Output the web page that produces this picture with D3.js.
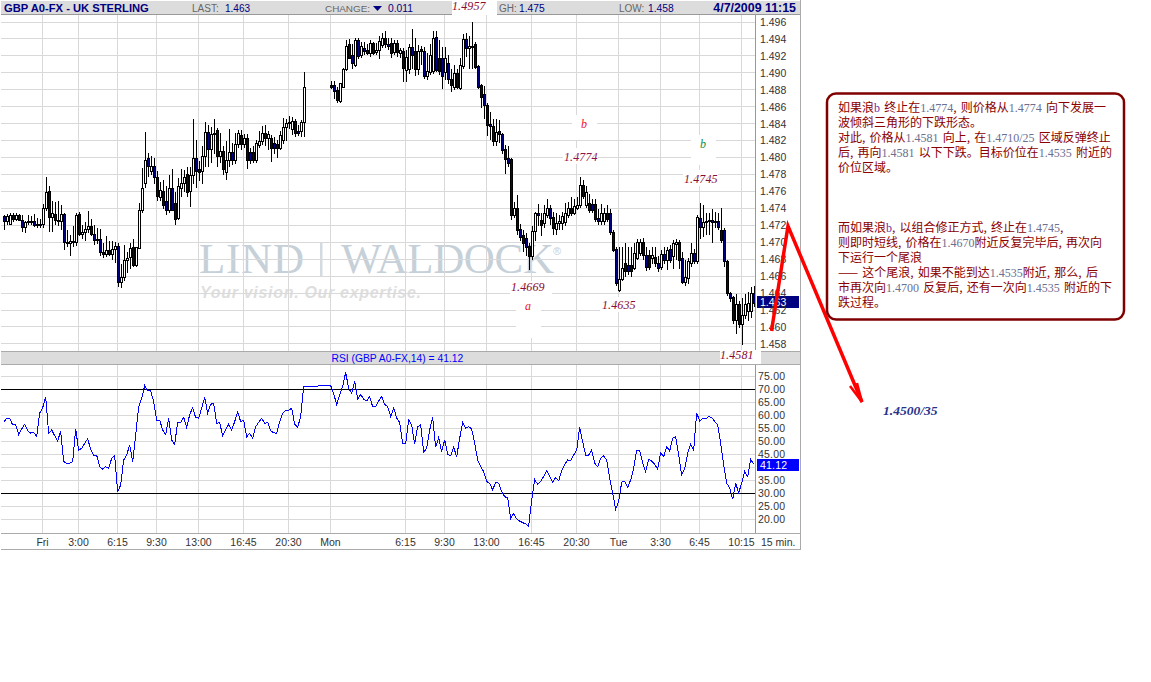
<!DOCTYPE html>
<html><head><meta charset="utf-8">
<script src="https://cdn.jsdelivr.net/npm/d3@7/dist/d3.min.js"></script>
<style>html,body{margin:0;padding:0;background:#fff}svg{display:block}</style>
</head><body><svg id="c" width="1151" height="682"></svg>
<script>
const opens=[1.4731,1.4726,1.4722,1.4733,1.4728,1.4733,1.4727,1.4718,1.4724,1.4725,1.4726,1.4721,1.4722,1.4722,1.4741,1.4761,1.4730,1.4734,1.4727,1.4725,1.4734,1.4701,1.4700,1.4702,1.4701,1.4734,1.4710,1.4713,1.4716,1.4720,1.4710,1.4703,1.4704,1.4689,1.4687,1.4691,1.4687,1.4692,1.4696,1.4654,1.4659,1.4680,1.4683,1.4695,1.4674,1.4694,1.4739,1.4770,1.4800,1.4785,1.4791,1.4778,1.4754,1.4761,1.4749,1.4739,1.4765,1.4747,1.4729,1.4765,1.4770,1.4781,1.4761,1.4780,1.4800,1.4787,1.4784,1.4802,1.4831,1.4810,1.4828,1.4833,1.4802,1.4808,1.4783,1.4798,1.4807,1.4798,1.4816,1.4827,1.4816,1.4823,1.4807,1.4807,1.4798,1.4815,1.4820,1.4829,1.4823,1.4824,1.4818,1.4817,1.4812,1.4821,1.4837,1.4841,1.4834,1.4844,1.4832,1.4832,1.4842,
null,null,null,null,null,null,null,null,
1.4886,1.4886,1.4880,1.4867,1.4884,1.4905,1.4935,1.4922,1.4910,1.4939,1.4922,1.4930,1.4928,1.4924,1.4936,1.4925,1.4928,1.4933,1.4942,1.4934,1.4936,1.4925,1.4936,1.4924,1.4926,1.4904,1.4905,1.4931,1.4926,1.4905,1.4929,1.4926,1.4897,1.4901,1.4903,1.4943,1.4918,1.4918,1.4901,1.4912,1.4893,1.4884,1.4900,1.4883,1.4909,1.4940,1.4930,1.4932,1.4935,1.4908,1.4886,1.4875,1.4863,1.4840,1.4838,1.4820,1.4832,1.4828,1.4810,1.4800,1.4799,1.4733,1.4741,1.4716,1.4709,1.4705,1.4696,1.4684,1.4714,1.4735,1.4727,1.4723,1.4733,1.4741,1.4730,1.4716,1.4723,1.4723,1.4724,1.4733,1.4741,1.4735,1.4741,1.4744,1.4768,1.4745,1.4747,1.4746,1.4746,1.4729,1.4725,1.4726,1.4735,1.4735,1.4713,1.4693,1.4644,1.4657,1.4676,1.4674,1.4674,1.4670,1.4682,1.4688,1.4701,1.4686,1.4685,1.4682,1.4683,1.4676,1.4671,1.4687,1.4680,1.4693,1.4684,1.4698,1.4701,1.4682,1.4654,1.4658,1.4676,1.4688,1.4678,1.4729,1.4719,1.4724,1.4725,1.4727,1.4725,1.4725,1.4715,1.4715,1.4678,1.4641,1.4636,1.4609,1.4628,1.4604,1.4615,1.4619,1.4619,1.4640];
const highs=[1.4733,1.4734,1.4736,1.4735,1.4735,1.4734,1.4733,1.4726,1.4733,1.4732,1.4734,1.4730,1.4729,1.4746,1.4778,1.4768,1.4750,1.4748,1.4750,1.4745,1.4736,1.4716,1.4710,1.4720,1.4736,1.4737,1.4722,1.4725,1.4738,1.4728,1.4722,1.4718,1.4717,1.4700,1.4708,1.4702,1.4703,1.4701,1.4700,1.4675,1.4698,1.4690,1.4700,1.4705,1.4696,1.4747,1.4789,1.4831,1.4806,1.4803,1.4800,1.4785,1.4772,1.4775,1.4768,1.4780,1.4787,1.4760,1.4777,1.4787,1.4786,1.4790,1.4790,1.4846,1.4822,1.4797,1.4815,1.4843,1.4839,1.4837,1.4847,1.4836,1.4830,1.4815,1.4820,1.4835,1.4818,1.4830,1.4833,1.4833,1.4829,1.4829,1.4812,1.4815,1.4822,1.4832,1.4838,1.4839,1.4832,1.4828,1.4825,1.4822,1.4832,1.4848,1.4847,1.4850,1.4849,1.4846,1.4840,1.4845,1.4902,
null,null,null,null,null,null,null,null,
1.4891,1.4891,1.4884,1.4889,1.4907,1.4940,1.4941,1.4935,1.4942,1.4942,1.4937,1.4937,1.4935,1.4940,1.4938,1.4936,1.4944,1.4948,1.4950,1.4942,1.4942,1.4940,1.4940,1.4930,1.4930,1.4928,1.4935,1.4953,1.4942,1.4934,1.4933,1.4932,1.4925,1.4935,1.4950,1.4950,1.4940,1.4931,1.4932,1.4922,1.4905,1.4910,1.4906,1.4918,1.4947,1.4948,1.4945,1.4961,1.4938,1.4910,1.4888,1.4885,1.4865,1.4855,1.4846,1.4847,1.4845,1.4830,1.4816,1.4815,1.4801,1.4748,1.4757,1.4723,1.4716,1.4712,1.4700,1.4720,1.4737,1.4746,1.4735,1.4745,1.4752,1.4745,1.4737,1.4735,1.4733,1.4737,1.4747,1.4748,1.4755,1.4752,1.4755,1.4778,1.4775,1.4767,1.4758,1.4752,1.4752,1.4740,1.4746,1.4742,1.4745,1.4740,1.4715,1.4695,1.4695,1.4695,1.4700,1.4695,1.4695,1.4700,1.4705,1.4705,1.4706,1.4695,1.4692,1.4696,1.4695,1.4685,1.4692,1.4695,1.4695,1.4698,1.4704,1.4705,1.4704,1.4690,1.4680,1.4682,1.4700,1.4693,1.4733,1.4747,1.4745,1.4735,1.4736,1.4740,1.4737,1.4735,1.4741,1.4718,1.4680,1.4642,1.4638,1.4640,1.4632,1.4635,1.4640,1.4642,1.4648,1.4650];
const lows=[1.4715,1.4721,1.4721,1.4725,1.4726,1.4727,1.4713,1.4712,1.4721,1.4721,1.4719,1.4718,1.4718,1.4718,1.4738,1.4713,1.4713,1.4722,1.4720,1.4715,1.4692,1.4695,1.4685,1.4695,1.4697,1.4708,1.4705,1.4703,1.4712,1.4708,1.4698,1.4699,1.4685,1.4683,1.4684,1.4685,1.4680,1.4676,1.4648,1.4647,1.4655,1.4665,1.4670,1.4672,1.4672,1.4693,1.4735,1.4765,1.4778,1.4780,1.4770,1.4750,1.4750,1.4740,1.4733,1.4735,1.4738,1.4722,1.4727,1.4755,1.4760,1.4755,1.4743,1.4770,1.4765,1.4773,1.4770,1.4790,1.4790,1.4795,1.4805,1.4790,1.4795,1.4780,1.4775,1.4790,1.4792,1.4793,1.4812,1.4810,1.4812,1.4787,1.4793,1.4795,1.4795,1.4812,1.4816,1.4815,1.4810,1.4796,1.4805,1.4800,1.4810,1.4817,1.4820,1.4835,1.4828,1.4825,1.4826,1.4825,1.4825,
null,null,null,null,null,null,null,null,
1.4882,1.4870,1.4866,1.4866,1.4883,1.4903,1.4917,1.4905,1.4908,1.4917,1.4918,1.4922,1.4922,1.4920,1.4922,1.4922,1.4917,1.4930,1.4930,1.4928,1.4918,1.4922,1.4920,1.4918,1.4890,1.4890,1.4900,1.4905,1.4897,1.4898,1.4910,1.4894,1.4893,1.4898,1.4900,1.4902,1.4898,1.4882,1.4893,1.4888,1.4878,1.4881,1.4882,1.4881,1.4905,1.4920,1.4906,1.4905,1.4905,1.4882,1.4860,1.4846,1.4826,1.4822,1.4815,1.4815,1.4818,1.4805,1.4782,1.4790,1.4727,1.4730,1.4710,1.4702,1.4690,1.4685,1.4668,1.4680,1.4702,1.4720,1.4708,1.4718,1.4730,1.4722,1.4710,1.4710,1.4715,1.4715,1.4720,1.4730,1.4732,1.4733,1.4739,1.4741,1.4752,1.4742,1.4735,1.4736,1.4725,1.4722,1.4722,1.4722,1.4725,1.4710,1.4690,1.4650,1.4642,1.4655,1.4660,1.4662,1.4660,1.4668,1.4680,1.4685,1.4680,1.4667,1.4668,1.4675,1.4672,1.4666,1.4668,1.4675,1.4668,1.4676,1.4670,1.4680,1.4670,1.4652,1.4650,1.4652,1.4672,1.4675,1.4675,1.4705,1.4707,1.4710,1.4710,1.4700,1.4718,1.4715,1.4700,1.4672,1.4638,1.4630,1.4604,1.4593,1.4600,1.4580,1.4610,1.4608,1.4612,1.4625];
const closes=[1.4726,1.4731,1.4733,1.4728,1.4733,1.4727,1.4719,1.4724,1.4725,1.4726,1.4721,1.4722,1.4722,1.4741,1.4760,1.4730,1.4735,1.4727,1.4725,1.4734,1.4701,1.4700,1.4702,1.4702,1.4733,1.4710,1.4713,1.4716,1.4720,1.4710,1.4703,1.4704,1.4689,1.4687,1.4691,1.4687,1.4692,1.4696,1.4653,1.4660,1.4680,1.4682,1.4694,1.4674,1.4695,1.4739,1.4765,1.4798,1.4790,1.4791,1.4778,1.4755,1.4762,1.4745,1.4739,1.4765,1.4739,1.4728,1.4767,1.4770,1.4778,1.4760,1.4780,1.4800,1.4785,1.4783,1.4802,1.4831,1.4810,1.4828,1.4829,1.4802,1.4808,1.4787,1.4798,1.4807,1.4798,1.4816,1.4830,1.4816,1.4823,1.4798,1.4798,1.4798,1.4818,1.4820,1.4829,1.4823,1.4828,1.4812,1.4812,1.4812,1.4827,1.4837,1.4841,1.4842,1.4844,1.4830,1.4829,1.4842,1.4884,
null,null,null,null,null,null,null,null,
1.4884,1.4879,1.4868,1.4888,1.4905,1.4932,1.4918,1.4912,1.4939,1.4920,1.4932,1.4926,1.4924,1.4936,1.4924,1.4928,1.4938,1.4941,1.4934,1.4932,1.4924,1.4936,1.4925,1.4927,1.4906,1.4919,1.4931,1.4922,1.4905,1.4926,1.4926,1.4897,1.4903,1.4922,1.4942,1.4904,1.4903,1.4897,1.4918,1.4893,1.4886,1.4900,1.4884,1.4910,1.4940,1.4930,1.4932,1.4932,1.4907,1.4884,1.4872,1.4862,1.4839,1.4838,1.4820,1.4831,1.4828,1.4809,1.4799,1.4794,1.4733,1.4741,1.4715,1.4707,1.4700,1.4695,1.4684,1.4714,1.4735,1.4733,1.4721,1.4735,1.4741,1.4729,1.4717,1.4723,1.4725,1.4731,1.4735,1.4741,1.4735,1.4743,1.4745,1.4768,1.4755,1.4760,1.4739,1.4739,1.4728,1.4725,1.4735,1.4735,1.4728,1.4713,1.4691,1.4652,1.4657,1.4670,1.4666,1.4666,1.4666,1.4688,1.4701,1.4701,1.4686,1.4671,1.4671,1.4686,1.4676,1.4670,1.4687,1.4680,1.4691,1.4680,1.4700,1.4701,1.4680,1.4654,1.4660,1.4678,1.4688,1.4678,1.4730,1.4719,1.4724,1.4725,1.4727,1.4724,1.4726,1.4718,1.4703,1.4678,1.4640,1.4635,1.4609,1.4628,1.4604,1.4615,1.4627,1.4629,1.4640,1.4629];
const rsiValues=[57.1,58.7,58.7,56.1,56.1,52.5,54.6,56.4,53.9,53.0,53.3,51.8,60.6,62.7,66.7,52.9,54.2,52.0,50.0,53.8,42.1,41.5,41.5,42.1,54.6,46.4,47.2,49.1,50.8,46.9,44.4,44.6,40.2,39.2,40.2,39.5,43.4,44.3,30.6,33.2,42.7,44.6,48.5,42.1,52.3,63.1,66.3,71.1,69.1,69.1,65.0,58.0,58.0,54.2,52.5,58.7,50.4,48.7,57.1,57.1,59.0,55.2,60.0,62.7,58.9,58.7,62.5,66.7,60.6,64.0,64.4,56.7,57.1,51.9,54.2,56.4,54.2,57.4,61.0,57.4,58.0,51.6,52.9,51.0,55.5,57.1,58.7,56.7,57.1,53.8,53.2,52.9,57.4,60.6,61.8,61.8,62.5,56.4,55.2,59.3,70.8,
70.8,70.8,70.8,70.8,71.1,71.1,71.1,71.1,
71.1,68.2,63.8,67.6,70.8,76.2,70.1,68.2,72.9,66.0,67.8,65.9,65.3,66.9,63.1,63.1,65.3,66.9,64.0,63.1,59.3,62.7,58.7,57.1,49.1,49.1,58.0,56.1,48.7,55.5,56.1,45.7,47.2,54.2,59.0,47.6,51.3,45.9,50.4,44.9,44.3,47.6,44.0,51.0,57.1,54.8,55.5,54.6,49.1,42.7,40.2,38.3,34.5,33.8,31.3,34.2,33.8,30.6,28.7,28.3,20.4,22.3,20.2,19.4,18.8,18.3,17.5,27.4,35.3,33.4,34.5,36.4,38.6,36.4,34.2,36.0,34.8,38.5,41.1,42.7,42.4,44.6,46.5,55.2,49.7,44.6,44.6,46.5,41.5,40.2,43.4,44.3,42.7,35.7,30.0,24.0,26.8,34.2,34.7,32.3,35.1,39.5,46.4,46.4,41.5,38.3,43.0,42.3,41.1,39.3,45.5,44.0,47.8,46.2,51.0,51.6,44.6,37.0,39.5,45.3,48.7,46.5,60.8,57.6,58.7,58.4,59.3,59.0,57.4,56.1,49.1,40.8,33.8,32.1,27.7,33.8,30.2,33.8,38.3,36.4,43.0,41.12];
const priceTicks=[1.496,1.494,1.492,1.490,1.488,1.486,1.484,1.482,1.480,1.478,1.476,1.474,1.472,1.470,1.468,1.466,1.464,1.462,1.460,1.458];
const rsiTicks=[75,70,65,60,55,50,45,35,30,25,20];
const timeLabels=["Fri","3:00","6:15","9:30","13:00","16:45","20:30","Mon","6:15","9:30","13:00","16:45","20:30","Tue","3:30","6:45","10:15"];
const timeBars=[13,25,38,51,65,80,95,109,134,147,161,176,191,205,219,232,246];
const noteLines=["如果浪b 终止在1.4774, 则价格从1.4774 向下发展一","波倾斜三角形的下跌形态。","对此, 价格从1.4581 向上, 在1.4710/25 区域反弹终止","后, 再向1.4581 以下下跌。目标价位在1.4535 附近的","价位区域。","","","","而如果浪b, 以组合修正方式, 终止在1.4745,","则即时短线, 价格在1.4670附近反复完毕后, 再次向","下运行一个尾浪","—— 这个尾浪, 如果不能到达1.4535附近, 那么, 后","市再次向1.4700 反复后, 还有一次向1.4535 附近的下","跌过程。"];
const arrowPath=[[771.5,331],[788,226],[862,402]];

const svg=d3.select("#c");
const SANS="'Liberation Sans',Arial,sans-serif",SERIF="'Liberation Serif','Times New Roman',serif";
const n=opens.length;
const x=d3.scaleLinear().domain([0,250]).range([3.67,753.67]);
const y=d3.scaleLinear().domain([1.458,1.496]).range([344.8,22.9]);
const yR=d3.scaleLinear().domain([30,70]).range([493.3,388.6]);
const GRID="#d9d9d9",NAVY="#000080";
const gridOffset=-1.4;

// watermark
const wm=svg.append("g");
wm.append("text").attr("x",199).attr("y",273).attr("font-family",SERIF).attr("font-size",43).attr("fill","#c6d0d8").attr("textLength",105).text("LIND");
wm.append("rect").attr("x",320).attr("y",243).attr("width",2.5).attr("height",33).attr("fill","#d4dbe0");
wm.append("text").attr("x",341).attr("y",273).attr("font-family",SERIF).attr("font-size",43).attr("fill","#c6d0d8").attr("textLength",213).text("WALDOCK");
wm.append("text").attr("x",553).attr("y",255).attr("font-family",SANS).attr("font-size",11).attr("fill","#c6d0d8").text("®");
wm.append("text").attr("x",200).attr("y",298).attr("font-family",SANS).attr("font-size",16).attr("font-style","italic").attr("font-weight","bold").attr("fill","#dedede").attr("textLength",221).text("Your vision. Our expertise.");

// grid
const g=svg.append("g").attr("shape-rendering","crispEdges");
timeBars.forEach(b=>{
  const gx=Math.round(x(b))+0.5-1;
  g.append("line").attr("x1",gx).attr("x2",gx).attr("y1",15).attr("y2",351).attr("stroke",GRID);
  g.append("line").attr("x1",gx).attr("x2",gx).attr("y1",365).attr("y2",533).attr("stroke",GRID);
});
priceTicks.forEach(t=>{const gy=Math.round(y(t)+gridOffset)+0.5;
  g.append("line").attr("x1",1).attr("x2",755).attr("y1",gy).attr("y2",gy).attr("stroke",GRID);});
rsiTicks.filter(t=>t!==70&&t!==30).concat([40]).forEach(t=>{const gy=Math.round(yR(t))+0.5;
  g.append("line").attr("x1",1).attr("x2",755).attr("y1",gy).attr("y2",gy).attr("stroke",GRID);});

// candles
const cg=svg.append("g").attr("shape-rendering","crispEdges");
d3.range(n).filter(i=>opens[i]!==null).forEach(i=>{
  const cx=Math.round(x(i))+0.5,up=closes[i]>=opens[i];
  cg.append("line").attr("x1",cx).attr("x2",cx).attr("y1",y(highs[i])).attr("y2",y(lows[i])).attr("stroke","#000");
  const t=y(Math.max(opens[i],closes[i])),b=y(Math.min(opens[i],closes[i]));
  cg.append("rect").attr("x",cx-1).attr("width",2).attr("y",t).attr("height",Math.max(1,b-t)).attr("fill",up?"#fff":NAVY).attr("stroke","#000");
});

// RSI
[70,30].forEach(t=>{svg.append("line").attr("x1",1).attr("x2",755).attr("y1",Math.round(yR(t))+0.5).attr("y2",Math.round(yR(t))+0.5).attr("stroke","#000").attr("shape-rendering","crispEdges");});
svg.append("path").datum(rsiValues).attr("fill","none").attr("stroke","#0000ff").attr("stroke-width",1).attr("shape-rendering","crispEdges")
  .attr("d",d3.line().x((d,i)=>x(i)).y(d=>yR(d)));

// frame
const fr=svg.append("g").attr("shape-rendering","crispEdges");
fr.append("rect").attr("x",1).attr("y",1).attr("width",799).attr("height",13).attr("fill","#dcdcdc");
fr.append("line").attr("x1",1).attr("x2",800).attr("y1",14.5).attr("y2",14.5).attr("stroke","#999");
fr.append("rect").attr("x",1).attr("y",351).attr("width",799).attr("height",13).attr("fill","#dcdcdc");
fr.append("line").attr("x1",1).attr("x2",800).attr("y1",351.5).attr("y2",351.5).attr("stroke","#aaa");
fr.append("line").attr("x1",1).attr("x2",800).attr("y1",364.5).attr("y2",364.5).attr("stroke","#aaa");
fr.append("line").attr("x1",1).attr("x2",800).attr("y1",533.5).attr("y2",533.5).attr("stroke","#aaa");
fr.append("line").attr("x1",1).attr("x2",800).attr("y1",549.5).attr("y2",549.5).attr("stroke","#aaa");
fr.append("line").attr("x1",755.5).attr("x2",755.5).attr("y1",15).attr("y2",351).attr("stroke","#999");
fr.append("line").attr("x1",755.5).attr("x2",755.5).attr("y1",365).attr("y2",533).attr("stroke","#999");
fr.append("line").attr("x1",800.5).attr("x2",800.5).attr("y1",0).attr("y2",550).attr("stroke","#aaa");

// tick labels
const T=(px,py,s,o={})=>svg.append("text").attr("x",px).attr("y",py).attr("font-family",o.f||SANS).attr("font-size",o.s||10.5)
  .attr("fill",o.c||"#333").attr("font-weight",o.w||null).attr("font-style",o.i||null).attr("text-anchor",o.a||null).attr("letter-spacing",o.ls||null).text(s);
priceTicks.forEach(t=>T(760,y(t)+3,t.toFixed(3)));
rsiTicks.forEach(t=>T(758,yR(t)+4,t.toFixed(2),{ls:.2}));
timeLabels.forEach((s,i)=>T(Math.round(x(timeBars[i]))-0.5,546,s,{a:"middle"}));
T(761,546,"15 min.");
fr.append("rect").attr("x",757).attr("y",296).attr("width",42).attr("height",12).attr("fill",NAVY);
T(760,306,"1.463",{c:"#fff"});
fr.append("rect").attr("x",757).attr("y",459).attr("width",42).attr("height",12).attr("fill","#0000ff");
T(760,469,rsiValues[250].toFixed(2),{c:"#fff",ls:.2});
T(331.5,362,"RSI (GBP A0-FX,14) = "+rsiValues[250].toFixed(2),{c:"#0000ff",s:10.3});

// header
T(4,12,"GBP A0-FX - UK STERLING",{w:"bold",c:"#000080",s:11.2});
T(192,12,"LAST:",{c:"#666",s:10}); T(225,12,"1.463",{c:"#000080",s:10});
T(325,12,"CHANGE:",{c:"#666",s:9.9});
svg.append("path").attr("d",d3.line()([[373,6],[382,6],[377.5,11]])+"Z").attr("fill",NAVY);
T(388,12,"0.011",{c:"#000080",s:10.3});
T(619,12,"LOW:",{c:"#666",s:10}); T(648,12,"1.458",{c:"#000080",s:10.3});
T(796,12,"4/7/2009 11:15",{w:"bold",c:"#000080",s:12.4,a:"end"});

// white patches + annotations
const patches=[[452,0,45,15],[572,115,25,25],[563,148,35,16],[691,135,25,30],[683,170,35,16],[510,281,42,13],[516,294,25,44],[600,297,38,15],[720,350,41,14]];
patches.forEach(p=>svg.append("rect").attr("x",p[0]).attr("y",p[1]).attr("width",p[2]).attr("height",p[3]).attr("fill","#fff"));
T(499,12,"GH:",{c:"#666",s:10}); T(519,12,"1.475",{c:"#000080",s:10.3});
const AN={f:SERIF,i:"italic",c:"#8a0a30",s:12,ls:.1};
T(452,10,"1.4957",AN);T(564,161,"1.4774",{...AN,c:"#90104a"});T(684,183,"1.4745",AN);T(511,291,"1.4669",AN);T(602,309,"1.4635",AN);T(720,359,"1.4581",AN);
T(581,128,"b",{f:SERIF,i:"italic",c:"#f01030",s:12});T(700,148,"b",{f:SERIF,i:"italic",c:"#109040",s:12});T(525,310,"a",{f:SERIF,i:"italic",c:"#f01030",s:12});

// arrow
svg.append("path").attr("d",d3.line()(arrowPath)).attr("fill","none").attr("stroke","#f00").attr("stroke-width",3.5).attr("stroke-linejoin","miter");
svg.append("path").attr("d",d3.line()([[850,386],[862,402],[857,383]])).attr("fill","none").attr("stroke","#f00").attr("stroke-width",2.5);
T(883,415,"1.4500/35",{f:SERIF,i:"italic",w:"bold",c:"#27338a",s:13.5});

// callout
svg.append("rect").attr("x",827).attr("y",93.5).attr("width",297).attr("height",226).attr("rx",9).attr("fill","#fff").attr("stroke","#800000").attr("stroke-width",2.5);
noteLines.forEach((ln,i)=>{
  const t=svg.append("text").attr("x",838).attr("y",112+i*15).attr("font-size",12).attr("word-spacing",1.5);
  ln.split(/([0-9.\/]+|b)/).forEach(s=>{ if(!s) return;
    const num=/^([0-9.\/]+|b)$/.test(s);
    t.append("tspan").attr("font-family",num?SERIF:"'Noto Sans CJK SC',sans-serif").attr("fill",num?(s==="b"?"#7030a0":"#6b7090"):"#8b0000").text(s);
  });
});
</script></body></html>
